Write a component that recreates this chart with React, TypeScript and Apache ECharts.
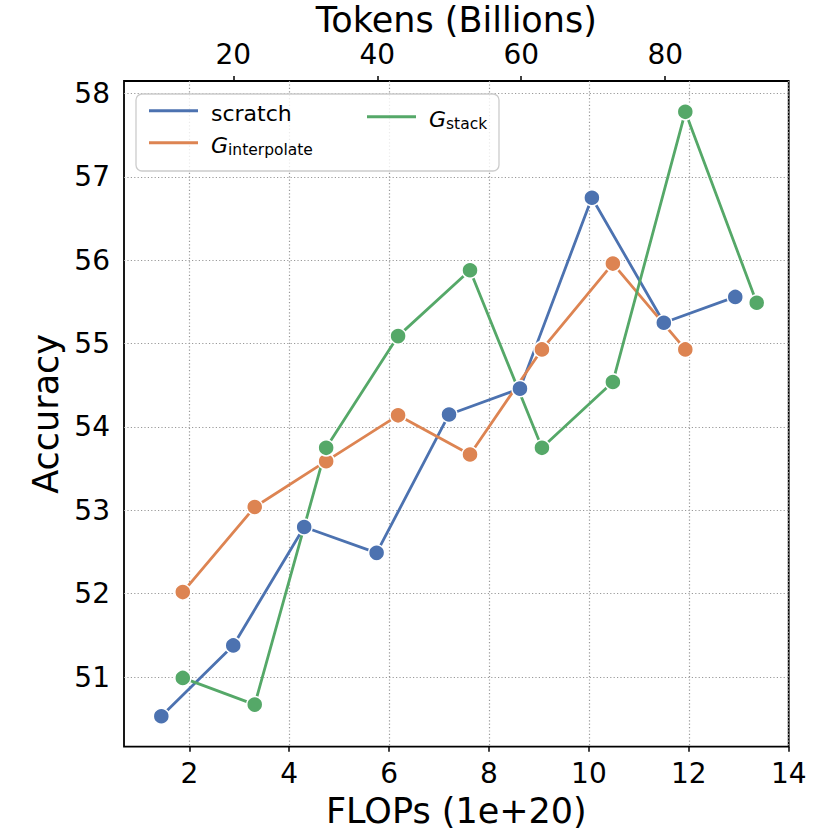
import React, { useEffect, useRef } from 'react';
import * as echarts from 'echarts';

// FLOPs (1e+20) positions
const scratchFlops = [1.44, 2.88, 4.3, 5.75, 7.2, 8.62, 10.06, 11.5, 12.93];
const growthFlops = [1.87, 3.31, 4.74, 6.18, 7.62, 9.06, 10.48, 11.93, 13.36];

// Accuracy values
const scratchAcc = [50.53, 51.38, 52.8, 52.49, 54.15, 54.46, 56.75, 55.25, 55.56];
const interpolateAcc = [52.02, 53.04, 53.59, 54.14, 53.67, 54.93, 55.96, 54.93];
const stackAcc = [50.99, 50.67, 53.75, 55.09, 55.88, 53.75, 54.54, 57.78, 55.49];

// tick labels
const flopsTicks = [2, 4, 6, 8, 10, 12, 14];
const tokenTicks = [20, 40, 60, 80];
const accTicks = [51, 52, 53, 54, 55, 56, 57, 58];

// axis extents
const flopsRange = [0.693, 14];
const accRange = [50.165, 58.15];
const tokensPerFlop = 6.94;

const seriesNames = ['scratch', 'G_interpolate', 'G_stack'];
const colors = ['#4C72B0', '#DD8452', '#55A868'];

const FONT = 'DejaVu Sans';

const intFmt = (v: number) => (Math.abs(v - Math.round(v)) < 1e-6 ? String(Math.round(v)) : '');

export default function App() {
  const ref = useRef<HTMLDivElement>(null);
  useEffect(() => {
    document.body.style.margin = '0';
    const chart = echarts.init(ref.current as HTMLDivElement, null, { renderer: 'svg' });
    const mkSeries = (name: string, xs: number[], ys: number[], color: string) => ({
      name,
      type: 'line',
      xAxisIndex: 0,
      yAxisIndex: 0,
      data: ys.map((y, i) => [xs[i], y]),
      symbol: 'circle',
      symbolSize: 16,
      lineStyle: { width: 2.8, color },
      itemStyle: { color, borderColor: '#ffffff', borderWidth: 1.5 },
      emphasis: { disabled: true },
    });
    const legendText = {
      fontFamily: FONT,
      fontSize: 22,
      color: '#000',
      padding: [0, 0, 0, 8],
      rich: {
        n: { fontFamily: FONT, fontSize: 22, lineHeight: 28, verticalAlign: 'bottom', color: '#000' },
        g: { fontFamily: FONT, fontSize: 22, fontStyle: 'italic', lineHeight: 28, verticalAlign: 'bottom', color: '#000' },
        sub: { fontFamily: FONT, fontSize: 15.5, lineHeight: 28, verticalAlign: 'top', padding: [13, 0, 0, 0], color: '#000' },
      },
    };
    const legendFmt = (name: string) => {
      if (name.startsWith('G_')) return '{g|G}{sub|' + name.slice(2) + '}';
      return '{n|' + name + '}';
    };
    const gridLine = { show: true, lineStyle: { color: '#999999', width: 1.2, type: [1.2, 2.2] } };
    const nameStyle = { fontFamily: FONT, fontSize: 35, lineHeight: 30, color: '#000' };
    chart.setOption({
      animation: false,
      backgroundColor: '#ffffff',
      textStyle: { fontFamily: FONT },
      grid: {
        left: 124,
        top: 81,
        right: 41.3,
        bottom: 83.3,
        containLabel: false,
        outerBoundsMode: 'none',
        show: true,
        borderColor: '#000000',
        borderWidth: 1.8,
        backgroundColor: 'transparent',
      },
      xAxis: [
        {
          type: 'value',
          position: 'bottom',
          min: flopsRange[0],
          max: flopsRange[1],
          splitNumber: 7,
          name: 'FLOPs (1e+20)',
          nameLocation: 'middle',
          nameGap: 49,
          nameTextStyle: nameStyle,
          axisLine: { show: false },
          axisTick: { show: true, inside: false, length: 5, lineStyle: { color: '#000', width: 1.5 }, customValues: flopsTicks },
          axisLabel: { fontFamily: FONT, fontSize: 28, color: '#000', margin: 13, customValues: flopsTicks, formatter: intFmt },
          splitLine: gridLine,
        },
        {
          type: 'value',
          position: 'top',
          min: flopsRange[0] * tokensPerFlop,
          max: flopsRange[1] * tokensPerFlop,
          splitNumber: 5,
          name: 'Tokens (Billions)',
          nameLocation: 'middle',
          nameGap: 46,
          nameMoveOverlap: false,
          nameTextStyle: nameStyle,
          axisLine: { show: false },
          axisTick: { show: true, inside: false, length: 5, lineStyle: { color: '#000', width: 1.5 }, customValues: tokenTicks },
          axisLabel: { fontFamily: FONT, fontSize: 28, color: '#000', margin: 13, customValues: tokenTicks, formatter: intFmt },
          splitLine: { show: false },
        },
      ],
      yAxis: {
        type: 'value',
        min: accRange[0],
        max: accRange[1],
        splitNumber: 8,
        name: 'Accuracy',
        nameLocation: 'middle',
        nameGap: 57,
        nameTextStyle: nameStyle,
        axisLine: { show: false },
        axisTick: { show: false, customValues: accTicks },
        axisLabel: { fontFamily: FONT, fontSize: 28, color: '#000', margin: 14, padding: [6, 0, 0, 0], customValues: accTicks, formatter: intFmt },
        splitLine: gridLine,
      },
      legend: [
        {
          orient: 'vertical',
          left: 144,
          top: 97.7,
          icon: 'rect',
          itemWidth: 49,
          itemHeight: 3,
          itemGap: 4,
          data: [seriesNames[0], seriesNames[1]],
          formatter: legendFmt,
          textStyle: legendText,
          itemStyle: { borderWidth: 0 },
          selectedMode: false,
        },
        {
          orient: 'vertical',
          left: 362,
          top: 97.7,
          icon: 'rect',
          itemWidth: 49,
          itemHeight: 3,
          itemGap: 4,
          data: [seriesNames[2]],
          formatter: legendFmt,
          textStyle: legendText,
          itemStyle: { borderWidth: 0 },
          selectedMode: false,
        },
      ],
      graphic: [
        {
          type: 'rect',
          z: 3,
          shape: { x: 136, y: 94, width: 363, height: 77, r: 6 },
          style: { fill: 'rgba(255,255,255,0.8)', stroke: '#cccccc', lineWidth: 1.3 },
          silent: true,
        },
      ],
      series: [
        mkSeries(seriesNames[0], scratchFlops, scratchAcc, colors[0]),
        mkSeries(seriesNames[1], growthFlops, interpolateAcc, colors[1]),
        mkSeries(seriesNames[2], growthFlops, stackAcc, colors[2]),
      ],
    });
    return () => chart.dispose();
  }, []);
  return <div ref={ref} style={{ width: 830, height: 830 }} />;
}
